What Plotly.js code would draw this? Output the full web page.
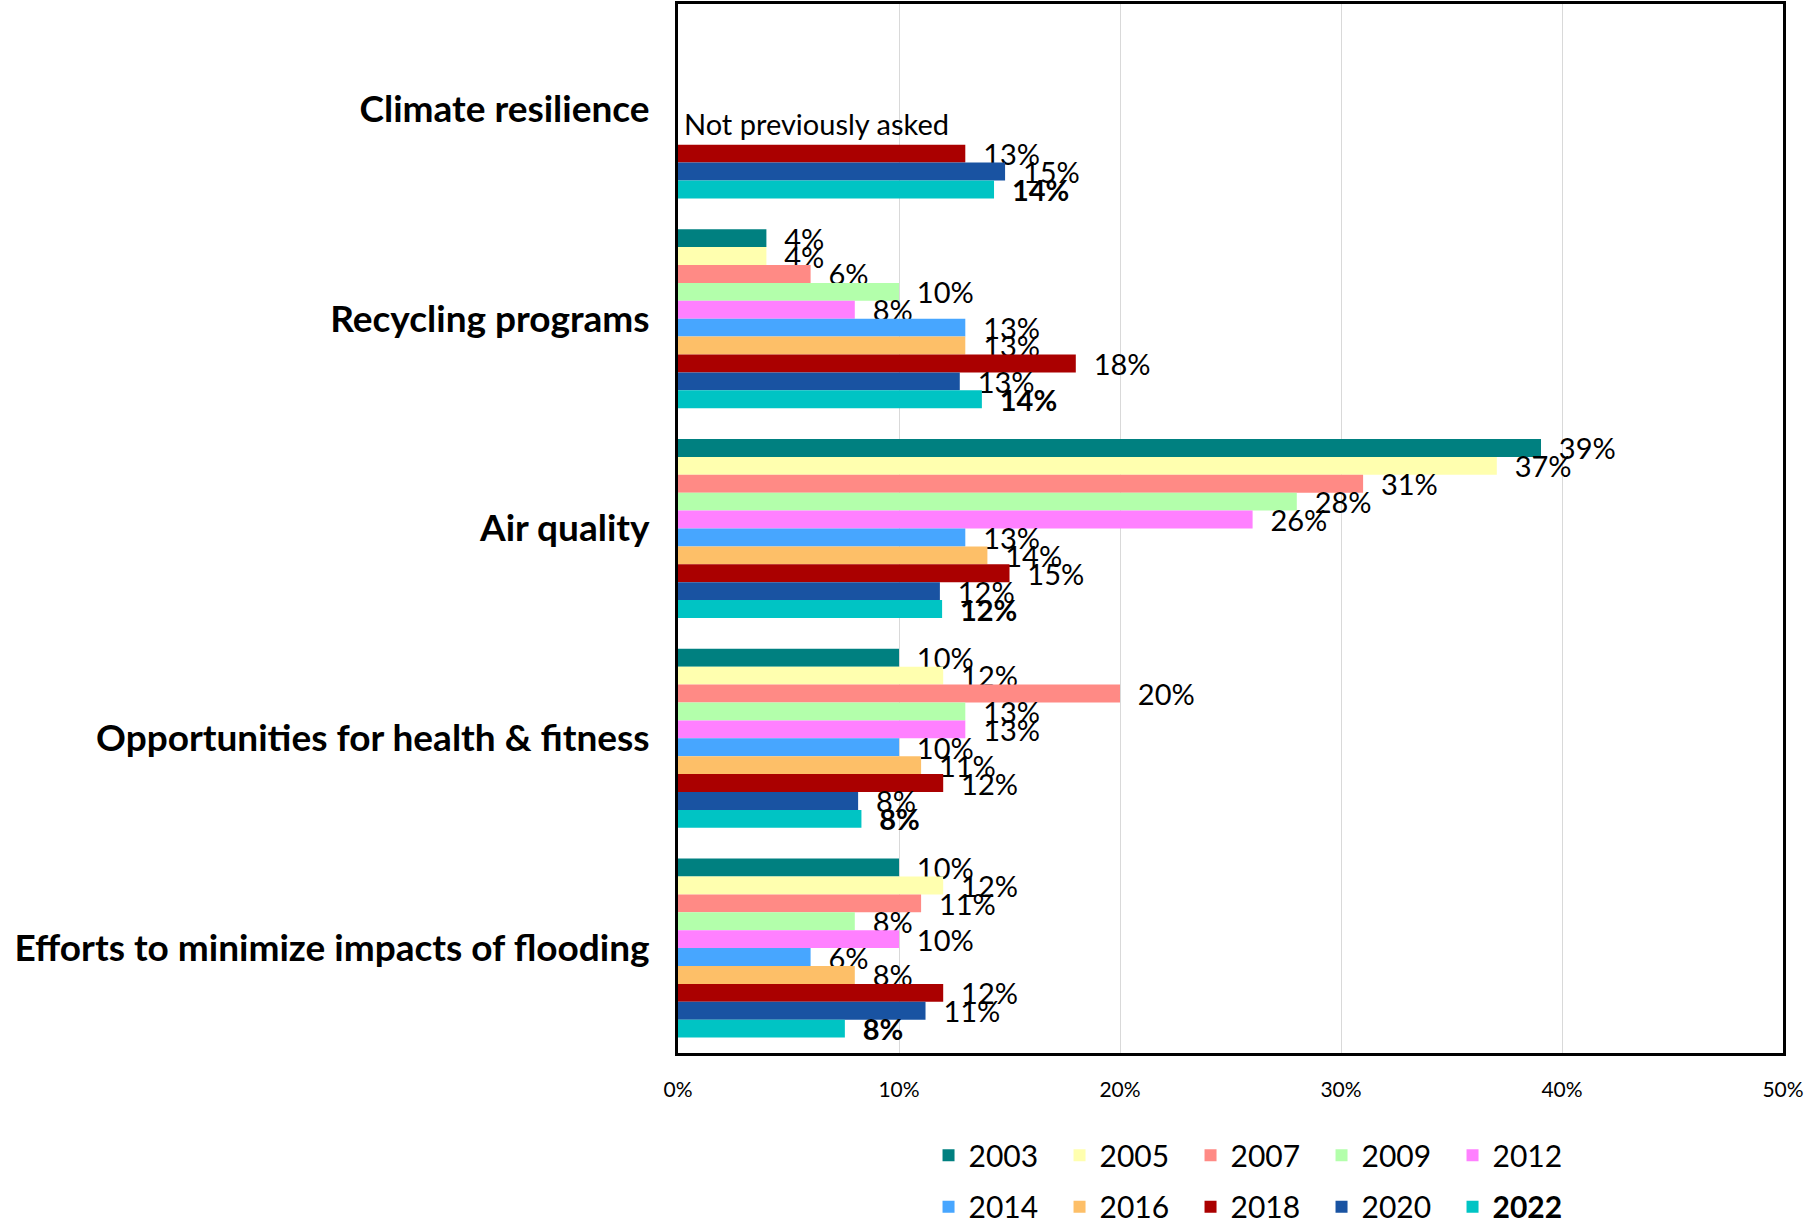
<!DOCTYPE html>
<html>
<head>
<meta charset="utf-8">
<script src="https://cdn.plot.ly/plotly-3.0.1.min.js"></script>
<style>
  html, body { margin: 0; padding: 0; background: #ffffff; }
  #chart { width: 1810px; height: 1225px; }
</style>
</head>
<body>
<div id="chart"></div>
<script>
// ---- Data (percent of respondents) ----
const categories = [
  'Climate resilience',
  'Recycling programs',
  'Air quality',
  'Opportunities for health & fitness',
  'Efforts to minimize impacts of flooding'
];
const years = ['2003', '2005', '2007', '2009', '2012', '2014', '2016', '2018', '2020', '2022'];

const v2003 = [null, 4.0, 39.05, 10.0, 10.0];
const v2005 = [null, 4.0, 37.05, 12.0, 12.0];
const v2007 = [null, 6.0, 31.0, 20.0, 11.0];
const v2009 = [null, 10.0, 28.0, 13.0, 8.0];
const v2012 = [null, 8.0, 26.0, 13.0, 10.0];
const v2014 = [null, 13.0, 13.0, 10.0, 6.0];
const v2016 = [null, 13.0, 14.0, 11.0, 8.0];
const v2018 = [13.0, 18.0, 15.0, 12.0, 12.0];
const v2020 = [14.8, 12.75, 11.85, 8.15, 11.2];
const v2022 = [14.3, 13.75, 11.95, 8.3, 7.55];

const seriesValues = [v2003, v2005, v2007, v2009, v2012, v2014, v2016, v2018, v2020, v2022];
const colors = ['#008080', '#FFFFAF', '#FF8A85', '#B3FFAB', '#FF80FF',
                '#47A6FF', '#FDBF68', '#AA0000', '#1953A2', '#00C4C4'];

const notAskedNote = 'Not previously asked';

const FONT = 'Lato, "Open Sans", "DejaVu Sans", sans-serif';

const traces = years.map((yr, i) => {
  const isLatest = (i === years.length - 1);
  const vals = seriesValues[i];
  const txt = vals.map(v => {
    if (v === null) return '';
    const s = Math.round(v) + '%';
    return '&nbsp;&nbsp;' + (isLatest ? '<b>' + s + '</b>' : s);
  });
  return {
    type: 'bar',
    orientation: 'h',
    name: isLatest ? '<b>' + yr + '</b>' : yr,
    y: categories,
    x: vals,
    text: txt,
    textposition: 'outside',
    constraintext: 'none',
    cliponaxis: false,
    textfont: { family: FONT, size: 29, color: '#000000' },
    marker: { color: colors[i], line: { width: 0 } },
    legend: i < 5 ? 'legend' : 'legend2',
    hoverinfo: 'x+name'
  };
});

const legendCommon = {
  orientation: 'h',
  xref: 'container',
  yref: 'container',
  xanchor: 'left',
  yanchor: 'middle',
  font: { family: FONT, size: 30, color: '#000000' },
  bgcolor: 'rgba(0,0,0,0)',
  entrywidth: 86,
  entrywidthmode: 'pixels',
  itemclick: false,
  itemdoubleclick: false
};

const layout = {
  width: 1810,
  height: 1225,
  paper_bgcolor: '#ffffff',
  plot_bgcolor: '#ffffff',
  margin: { l: 678, r: 27, t: 4, b: 172, pad: 0 },
  barmode: 'group',
  bargap: 0.147,
  bargroupgap: 0,
  font: { family: FONT, color: '#000000' },
  xaxis: {
    range: [0, 50],
    dtick: 10,
    tick0: 0,
    ticksuffix: '%',
    showgrid: true,
    gridcolor: '#D9D9D9',
    gridwidth: 1,
    zeroline: false,
    showline: true,
    mirror: true,
    linecolor: '#000000',
    linewidth: 3,
    ticks: '',
    ticklabelstandoff: 16,
    tickfont: { family: FONT, size: 21, color: '#000000' },
    fixedrange: true
  },
  yaxis: {
    type: 'category',
    categoryorder: 'array',
    categoryarray: categories,
    autorange: 'reversed',
    showgrid: false,
    zeroline: false,
    showline: true,
    mirror: true,
    linecolor: '#000000',
    linewidth: 3,
    ticks: '',
    ticklabelstandoff: 18,
    tickfont: { family: FONT, size: 37, color: '#000000', weight: 'bold' },
    fixedrange: true
  },
  legend: Object.assign({}, legendCommon, { x: 0.513, y: 0.057 }),
  legend2: Object.assign({}, legendCommon, { x: 0.513, y: 0.015 }),
  annotations: [{
    x: 0,
    y: categories[0],
    xref: 'x',
    yref: 'y',
    text: notAskedNote,
    showarrow: false,
    xanchor: 'left',
    yanchor: 'middle',
    xshift: 4,
    yshift: -15,
    font: { family: FONT, size: 29, color: '#000000' }
  }],
  showlegend: true
};

Plotly.newPlot('chart', traces, layout, { displayModeBar: false, staticPlot: false });
</script>
</body>
</html>
